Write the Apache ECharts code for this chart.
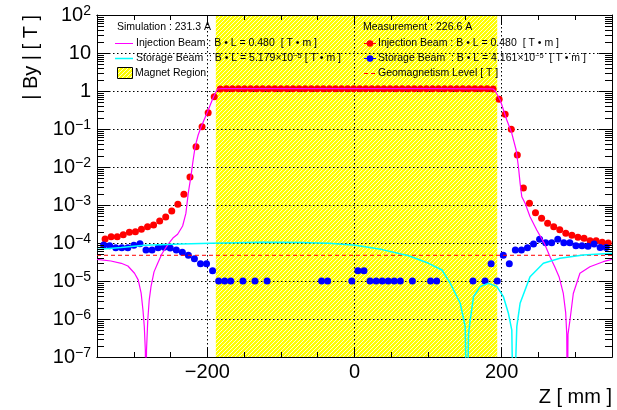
<!DOCTYPE html>
<html><head><meta charset="utf-8">
<script src="https://cdn.jsdelivr.net/npm/echarts@6/dist/echarts.min.js"></script>
<style>html,body{margin:0;padding:0;background:#fff}#c{width:617px;height:410px}</style>
</head><body><div id="c"></div>
<script>
// ---- data ----
const measInjZ = [-339,-330.8,-322.5,-314.3,-306,-297.8,-289.6,-281.3,-273.1,-264.8,-256.6,-248.4,-240.1,-231.9,-223.6,-215.4,-207.2,-198.9,-190.7,-182.4,-174.2,-166,-157.7,-149.5,-141.2,-133,-124.8,-116.5,-108.3,-100,-91.8,-83.6,-75.3,-67.1,-58.8,-50.6,-42.4,-34.1,-25.9,-17.6,-9.4,-1.2,7.1,15.3,23.6,31.8,40,48.3,56.5,64.8,73,81.2,89.5,97.7,106,114.2,122.4,130.7,138.9,147.2,155.4,163.6,171.9,180.1,188.4,196.6,204.8,213.1,221.3,229.6,237.8,246,254.3,262.5,270.8,279,287.2,295.5,303.7,312,320.2,328.4,336.7,344.9];
const measInjB = [1.27e-4,1.47e-4,1.47e-4,1.65e-4,1.91e-4,1.98e-4,2.29e-4,2.69e-4,2.98e-4,3.80e-4,4.83e-4,6.95e-4,1.04e-3,1.91e-3,5.45e-3,0.0342,0.115,0.268,0.708,1.13,
1.14,1.14,1.15,1.15,1.15,1.15,1.15,1.15,1.15,1.15,1.15,1.15,1.15,1.15,1.15,1.15,1.15,1.15,1.15,1.15,1.15,1.15,1.15,1.15,1.15,1.15,1.15,1.15,1.15,1.15,1.15,1.15,1.15,1.15,1.15,1.15,1.15,1.15,1.15,1.15,1.15,1.15,1.15,1.14,1.13,
0.605,0.244,0.098,0.0207,2.8e-3,1.11e-3,6.27e-4,4.46e-4,3.3e-4,2.69e-4,2.24e-4,1.80e-4,1.59e-4,1.41e-4,1.33e-4,1.15e-4,1.15e-4,1.04e-4,1.0e-4];
const measStoZ = [-341,-332.8,-324.5,-316.3,-308.1,-299.9,-291.6,-283.4,-275.2,-266.9,-258.7,-250.5,-242.2,-234,-225.8,-217.6,-209.3,-201.1,-192.9,-184.6,-176.4,-168.2,-159.9,-151.7,-143.5,-135.3,-127,-118.8,-110.6,-102.3,-94.1,-85.9,-77.6,-69.4,-61.2,-53,-44.7,-36.5,-28.3,-20,-11.8,-3.6,4.7,12.9,21.1,29.4,37.6,45.8,54,62.3,70.5,78.7,87,95.2,103.4,111.7,119.9,128.1,136.3,144.6,152.8,161,169.3,177.5,185.7,194,202.2,210.4,218.6,226.9,235.1,243.3,251.6,259.8,268,276.3,284.5,292.7,300.9,309.2,317.4,325.6,333.9,342.1,350.3];
const measStoB = [8.85e-5,8.5e-5,7.5e-5,7.5e-5,7.5e-5,8.7e-5,9.6e-5,6.55e-5,6.55e-5,7.5e-5,7.7e-5,7.4e-5,6.55e-5,5.7e-5,4.74e-5,3.86e-5,2.85e-5,2.85e-5,1.87e-5,1e-5,
1e-5,1e-5,null,1e-5,null,1e-5,null,1e-5,null,null,null,null,null,null,null,null,1e-5,1e-5,null,null,null,1e-5,1.87e-5,1.87e-5,1e-5,1e-5,1e-5,1e-5,1e-5,1e-5,
null,1e-5,null,null,1e-5,1e-5,null,null,null,null,null,1e-5,null,1e-5,2.85e-5,1e-5,4.74e-5,2.85e-5,6.55e-5,6.55e-5,7.5e-5,9.4e-5,1.25e-4,1.02e-4,1.02e-4,1.25e-4,1.02e-4,1.02e-4,8.5e-5,8.5e-5,8.2e-5,9.4e-5,7.6e-5,7.6e-5,8.5e-5];
const simInjZ = [-350,-331,-317,-308,-299,-294,-290,-287.5,-285.7,-284.3,-283.5,-282.7,-281,-279,-276.6,-272.5,-267.5,-261.7,-254,-246.8,-240.4,-233.6,-229.2,-226,-222.4,-219.3,-216.6,-212.5,-208.4,-200.3,-191.6,-186.2,-180,-100,0,100,185,188.5,191.2,198,207,213.8,219.7,222.8,225.1,227.4,231.9,238.6,247.7,258,266,272,278,283.8,287,288.5,289.3,290.2,292.9,297.4,306.4,320,338,350];
const simInjB = [3.7e-5,3.36e-5,2.92e-5,2.48e-5,1.6e-5,1.07e-5,4.8e-6,1.7e-6,6.3e-7,1.5e-7,1e-9,1.5e-7,9.3e-7,3.2e-6,7.1e-6,1.74e-5,2.95e-5,5.2e-5,8.9e-5,1.35e-4,1.7e-4,2.8e-4,6e-4,2.03e-3,5.6e-3,0.0153,0.0342,0.0695,0.115,0.268,0.708,1.13,1.15,1.15,1.15,1.15,1.14,1.13,1.0,0.58,0.173,0.077,0.028,0.0102,3.7e-3,1.65e-3,1.11e-3,4.9e-4,2.2e-4,9.8e-5,4.2e-5,2.4e-5,1.3e-5,4.7e-6,1.5e-6,4e-7,1e-9,4e-7,9.4e-7,4.7e-6,1.6e-5,2.38e-5,3.22e-5,3.72e-5];
const simStoZ = [-350,-317,-286,-236,-195,-125,-73,-35,1.4,37.6,73.6,100.7,118.9,130.2,143.7,150.5,152.8,155,157.3,161.8,170.8,182.1,193.5,202.4,209.2,213.8,216,220.6,225.1,238.6,256.7,279.3,310.9,350];
const simStoB = [6.74e-5,7.6e-5,8.7e-5,9.4e-5,9.8e-5,1.04e-4,1.03e-4,9.8e-5,8.7e-5,6.7e-5,4.6e-5,2.92e-5,1.95e-5,8.7e-6,2.6e-6,6.3e-7,1e-9,4e-7,9.4e-7,3.86e-6,7.1e-6,8.7e-6,7.1e-6,3.86e-6,1.41e-6,5.1e-7,1e-9,6.3e-7,2.6e-6,1.3e-5,2.92e-5,3.96e-5,4.83e-5,5.36e-5];
const geoLevel = 4.75e-5;
const magnetRegion = [-188.5, 194];
const xRange = [-350, 350];
const xTickValues = [-200, 0, 200];
const xTickLabels = ['\u2212200', '0', '200'];
const yTickExponents = [-7,-6,-5,-4,-3,-2,-1,0,1,2];
const yTickLabels = ['{b|10}{s|\u22127}','{b|10}{s|\u22126}','{b|10}{s|\u22125}','{b|10}{s|\u22124}','{b|10}{s|\u22123}','{b|10}{s|\u22122}','{b|10}{s|\u22121}','{b|1}','{b|10}','{b|10}{s|2}'];
const yMinorMantissas = [2,3,4,5,6,7,8,9];

// ---- helpers ----
const FONT = '"Liberation Sans", Arial, Helvetica, sans-serif';
const pairs = (zs, bs) => zs.map((z, i) => [z, bs[i]]).filter(p => p[1] != null);
const yMinorVals = [];
yTickExponents.slice(0, -1).forEach(e => yMinorMantissas.forEach(m => yMinorVals.push(m * Math.pow(10, e))));

const pat = document.createElement('canvas');
pat.width = 4; pat.height = 4;
const pc = pat.getContext('2d');
pc.fillStyle = '#ffff00'; pc.fillRect(0, 0, 4, 4);
pc.fillStyle = '#fdfdd2';
for (let i = 0; i < 4; i++) pc.fillRect(i, 3 - i, 1, 1);

const chart = echarts.init(document.getElementById('c'), null, {renderer: 'canvas'});
const dotted = {color: '#000', width: 1, type: [1.5, 2.5]};
const xBase = (pos, major, labels) => ({
  type: 'value', min: xRange[0], max: xRange[1], position: pos, z: 2,
  axisLine: {show: true, onZero: false, lineStyle: {color: '#000', width: 1}},
  axisTick: major ? {show: true, inside: true, length: 10, customValues: xTickValues, lineStyle: {color: '#000'}}
                  : {show: true, inside: true, length: 5, lineStyle: {color: '#000'}},
  interval: major ? undefined : 50,
  axisLabel: labels ? {show: true, customValues: xTickValues, formatter: v => xTickLabels[xTickValues.indexOf(v)],
      fontSize: 20, color: '#000', fontFamily: FONT, margin: 5} : {show: false},
  splitLine: (major && labels) ? {show: true, lineStyle: dotted} : {show: false}
});
const yMajor = (pos, labels) => ({
  type: 'log', logBase: 10, min: 1e-7, max: 100, interval: 1, position: pos, z: 2,
  axisLine: {show: true, onZero: false, lineStyle: {color: '#000', width: 1}},
  axisTick: {show: true, inside: true, length: 13, lineStyle: {color: '#000'}},
  axisLabel: labels ? {show: true, margin: 6, color: '#000',
      formatter: v => yTickLabels[Math.round(Math.log10(v)) + 7],
      rich: {b: {fontSize: 20, fontFamily: FONT, color: '#000', lineHeight: 22},
             s: {fontSize: 14, fontFamily: FONT, color: '#000', verticalAlign: 'top', lineHeight: 12}}} : {show: false},
  splitLine: labels ? {show: true, lineStyle: dotted} : {show: false}
});

const legendFont = {fontSize: 10.5, fontFamily: FONT, fill: '#000'};
const supRich = {s: {fontSize: 7.5, fontFamily: FONT, verticalAlign: 'top', lineHeight: 8}};
const txt = (x, y, text) => ({type: 'text', x, y, z: 20, style: Object.assign({text, verticalAlign: 'middle', align: 'left', lineHeight: 13, rich: supRich}, legendFont)});

chart.setOption({
  animation: false,
  grid: {left: 97, right: 5, top: 15, bottom: 53, containLabel: false},
  xAxis: [xBase('bottom', true, true), xBase('bottom', false, false), xBase('top', true, false), xBase('top', false, false)],
  yAxis: [yMajor('left', true), yMajor('right', false)],
  series: [
    {type: 'line', name: 'Magnet Region', data: [], z: 1, silent: true,
     markArea: {silent: true, itemStyle: {color: {image: pat, repeat: 'repeat'}},
       data: [[{xAxis: magnetRegion[0]}, {xAxis: magnetRegion[1]}]]}},
    {type: 'scatter', name: 'meas inj', data: pairs(measInjZ, measInjB), symbol: 'circle', symbolSize: 7,
     itemStyle: {color: '#ff0000', opacity: 1}, z: 3, silent: true},
    {type: 'scatter', name: 'meas sto', data: pairs(measStoZ, measStoB), symbol: 'circle', symbolSize: 7,
     itemStyle: {color: '#0000ff', opacity: 1}, z: 3, silent: true},
    {type: 'line', name: 'geo', data: [[xRange[0], geoLevel], [xRange[1], geoLevel]], showSymbol: false,
     lineStyle: {color: '#ff0000', width: 1, type: [4, 3]}, z: 4, silent: true},
    {type: 'line', name: 'sim inj', data: pairs(simInjZ, simInjB), showSymbol: false,
     lineStyle: {color: '#ff00ff', width: 1.2}, z: 5, silent: true, clip: true},
    {type: 'line', name: 'sim sto', data: pairs(simStoZ, simStoB), showSymbol: false,
     lineStyle: {color: '#00ffff', width: 1.5}, z: 5, silent: true, clip: true}
  ]
});

// minor log ticks on left and right frame, placed through the y axis scale
const xl = chart.convertToPixel({xAxisIndex: 0}, xRange[0]);
const xr = chart.convertToPixel({xAxisIndex: 0}, xRange[1]);
const minorTicks = [];
yMinorVals.forEach(v => {
  const y = Math.round(chart.convertToPixel({yAxisIndex: 0}, v)) + 0.5;
  minorTicks.push({type: 'line', z: 15, silent: true, shape: {x1: xl, y1: y, x2: xl + 7, y2: y}, style: {stroke: '#000', lineWidth: 1}});
  minorTicks.push({type: 'line', z: 15, silent: true, shape: {x1: xr - 7, y1: y, x2: xr, y2: y}, style: {stroke: '#000', lineWidth: 1}});
});

chart.setOption({
  graphic: minorTicks.concat([
    {type: 'text', x: 31, y: 15, rotation: Math.PI / 2, z: 20,
     style: {text: '| By | [ T ]', fontSize: 20, fontFamily: FONT, fill: '#000', align: 'right', verticalAlign: 'middle'}},
    {type: 'text', x: 612, y: 397, z: 20,
     style: {text: 'Z [ mm ]', fontSize: 20, fontFamily: FONT, fill: '#000', align: 'right', verticalAlign: 'middle'}},
    // left legend
    txt(117, 27, 'Simulation : 231.3 A'),
    {type: 'line', z: 20, shape: {x1: 115, y1: 43.5, x2: 133, y2: 43.5}, style: {stroke: '#ff00ff', lineWidth: 1}},
    txt(136, 43.5, 'Injection Beam : B \u2022 L = 0.480  [ T \u2022 m ]'),
    {type: 'line', z: 20, shape: {x1: 115, y1: 58.5, x2: 133, y2: 58.5}, style: {stroke: '#00ffff', lineWidth: 1.5}},
    txt(136, 58.5, 'Storage Beam  : B \u2022 L = 5.179\u00d710{s|\u22125} [ T \u2022 m ]'),
    {type: 'rect', z: 20, shape: {x: 117.5, y: 67.5, width: 15, height: 11}, style: {fill: {image: pat, repeat: 'repeat'}, stroke: '#000', lineWidth: 1}},
    txt(135, 73.5, 'Magnet Region'),
    // right legend
    txt(363, 27, 'Measurement : 226.6 A'),
    {type: 'line', z: 20, shape: {x1: 364, y1: 43.5, x2: 376, y2: 43.5}, style: {stroke: '#ff0000', lineWidth: 1}},
    {type: 'circle', z: 21, shape: {cx: 370, cy: 43.5, r: 3.3}, style: {fill: '#ff0000'}},
    txt(378, 43.5, 'Injection Beam : B \u2022 L = 0.480  [ T \u2022 m ]'),
    {type: 'line', z: 20, shape: {x1: 364, y1: 58.5, x2: 376, y2: 58.5}, style: {stroke: '#0000ff', lineWidth: 1}},
    {type: 'circle', z: 21, shape: {cx: 370, cy: 58.5, r: 3.3}, style: {fill: '#0000ff'}},
    txt(378, 58.5, 'Storage Beam  : B \u2022 L = 4.161\u00d710{s|\u22125}  [ T \u2022 m ]'),
    {type: 'line', z: 20, shape: {x1: 364, y1: 73.5, x2: 377, y2: 73.5}, style: {stroke: '#ff0000', lineWidth: 1, lineDash: [4, 3]}},
    txt(378, 73.5, 'Geomagnetism Level [ T ]')
  ])
});
</script></body></html>
